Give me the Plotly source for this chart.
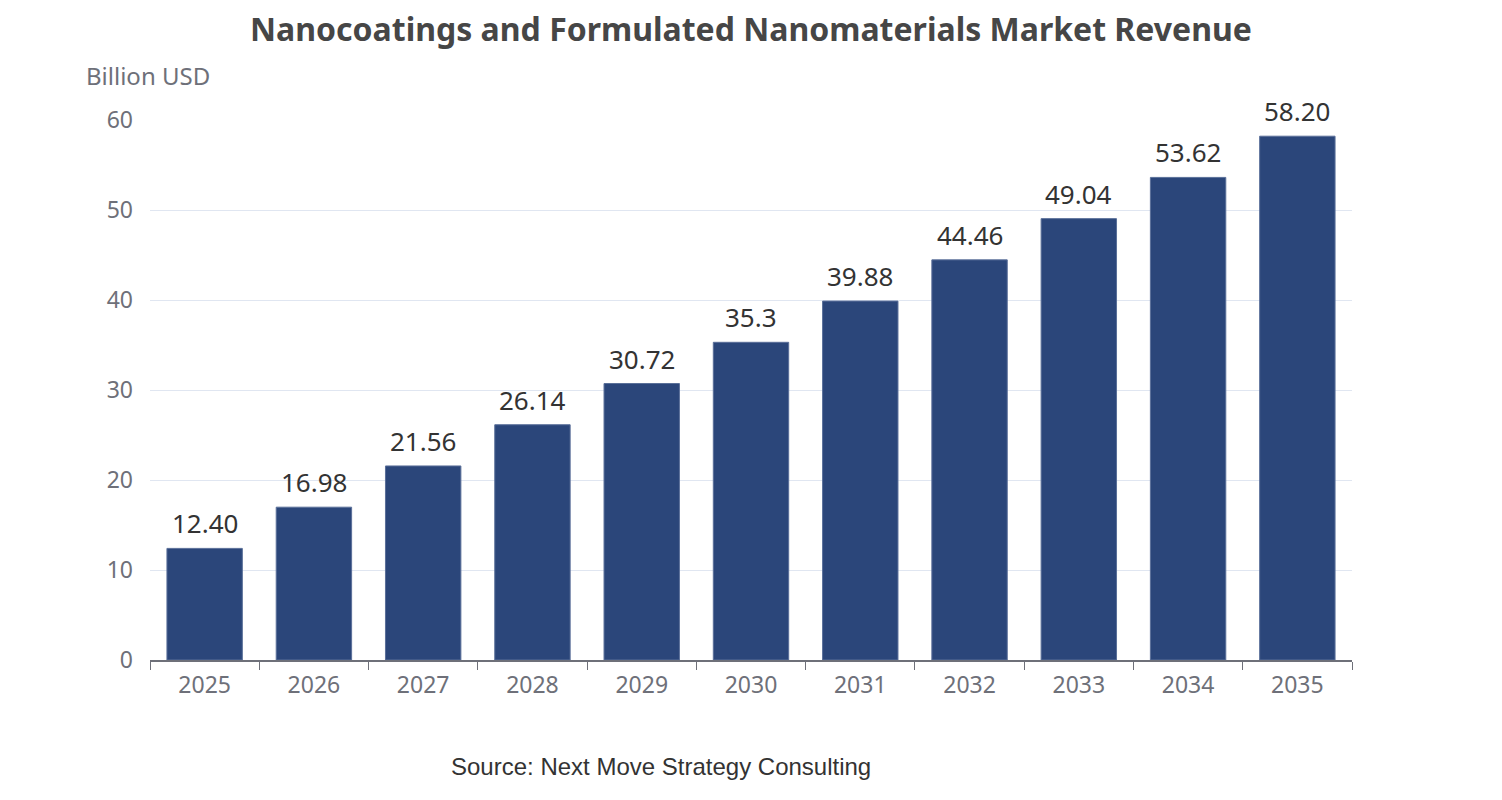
import plotly.graph_objects as go

# ── Data ──────────────────────────────────────────────────────────────────────
years = ["2025", "2026", "2027", "2028", "2029", "2030",
         "2031", "2032", "2033", "2034", "2035"]
revenue = [12.40, 16.98, 21.56, 26.14, 30.72, 35.3,
           39.88, 44.46, 49.04, 53.62, 58.20]
value_labels = ["12.40", "16.98", "21.56", "26.14", "30.72", "35.3",
                "39.88", "44.46", "49.04", "53.62", "58.20"]

BAR = "#2b467a"
AXIS = "#6e7079"
GRID = "#e0e6f1"

fig = go.Figure()

fig.add_trace(go.Bar(
    x=years, y=revenue,
    marker=dict(color=BAR, line=dict(color="#5a6f99", width=1)),
    showlegend=False,
))

# value labels above each bar (category index positions)
for i, (val, lab) in enumerate(zip(revenue, value_labels)):
    fig.add_annotation(
        x=i, y=val, text=lab,
        xref="x", yref="y",
        yanchor="bottom", yshift=5,
        showarrow=False,
        font=dict(size=26, color="#333333", family="Noto Sans"),
    )

fig.update_layout(
    width=1502, height=800,
    paper_bgcolor="white", plot_bgcolor="white",
    margin=dict(l=142, r=158, t=112, b=148),
    bargap=0.31,
    title=dict(
        text="<b>Nanocoatings and Formulated Nanomaterials Market Revenue</b>",
        xref="paper", x=0.5, xanchor="center", y=0.9725, yanchor="middle",
        font=dict(size=32, color="#464646", family="Noto Sans"),
    ),
    font=dict(family="Noto Sans", color=AXIS),
)

fig.update_xaxes(
    type="category",
    categoryorder="array", categoryarray=years,
    showline=True, linecolor=AXIS, linewidth=1.5,
    ticks="outside", tickson="boundaries", ticklen=8, tickcolor=AXIS,
    tickfont=dict(size=23, color=AXIS),
    tickangle=0,
    ticklabelstandoff=4,
    showgrid=False,
)
fig.update_yaxes(
    range=[0, 60], dtick=10,
    showgrid=True, gridcolor=GRID, gridwidth=1,
    zeroline=False, showline=False,
    tickfont=dict(size=23, color=AXIS),
    ticklabelstandoff=16,
)

fig.add_annotation(
    text="Billion USD", xref="paper", yref="paper",
    x=-0.0545, y=1.083, xanchor="left", yanchor="middle",
    showarrow=False, font=dict(size=24, color=AXIS),
)
fig.add_annotation(
    text="Source: Next Move Strategy Consulting", xref="paper", yref="paper",
    x=0.425, y=-0.198, xanchor="center", yanchor="middle",
    showarrow=False,
    font=dict(size=24, color="#333333", family="Liberation Sans"),
)

fig.write_html("out.html")
